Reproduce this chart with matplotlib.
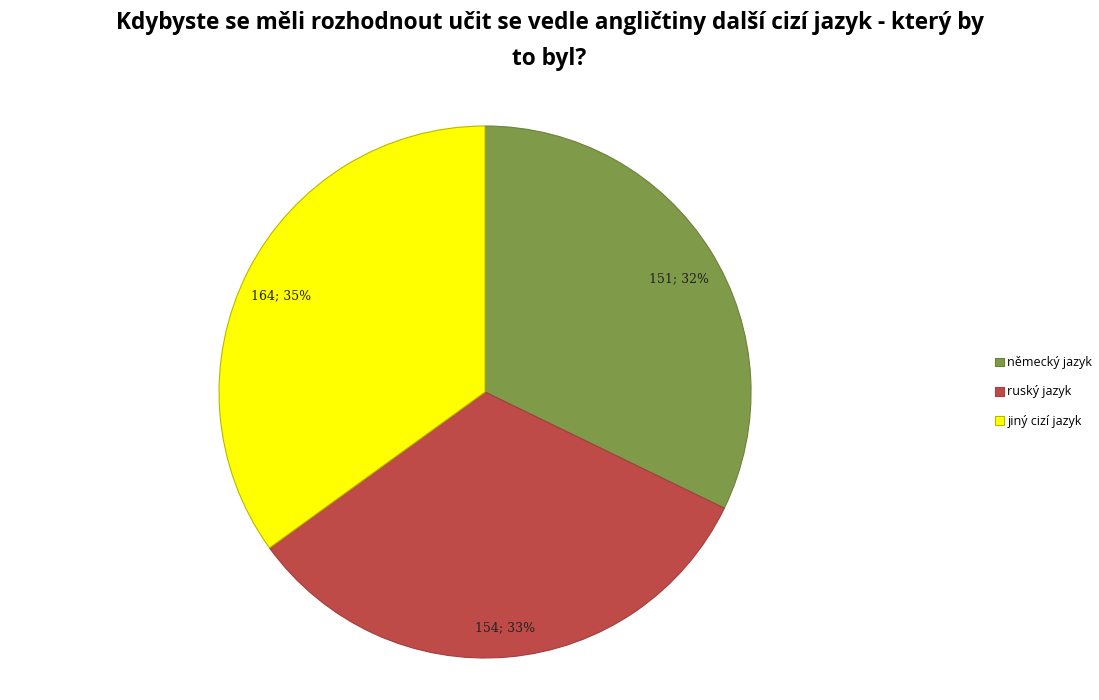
import matplotlib
matplotlib.use("Agg")
import matplotlib.pyplot as plt

# data
jazyky = ["německý jazyk", "ruský jazyk", "jiný cizí jazyk"]
pocty = [151, 154, 164]
barvy = ["#7F9A48", "#BE4B48", "#FFFF00"]
okraje = ["#6B8339", "#A33E3B", "#B8B800"]

titulek = "Kdybyste se měli rozhodnout učit se vedle angličtiny další cizí jazyk - který by\nto byl?"

def popisek(pct):
    celkem = sum(pocty)
    hodnota = int(round(pct * celkem / 100.0))
    return "%d; %d%%" % (hodnota, round(pct))

fig = plt.figure(figsize=(10.99, 7.0), dpi=100)
ax = fig.add_axes([0.1993, 0.06, 0.4841, 0.76])

klinky, texty, procenta = ax.pie(
    pocty,
    colors=barvy,
    startangle=90,
    counterclock=False,
    autopct=popisek,
    pctdistance=0.86,
    wedgeprops=dict(linewidth=0.8),
    textprops=dict(fontsize=9, family="DejaVu Serif", color="#222222"),
)
for w, e in zip(klinky, okraje):
    w.set_edgecolor(e)
# posun popisku o kousek niz, jako v Excelu
for t in procenta:
    x, y = t.get_position()
    t.set_position((x, y - 0.03))
ax.set_xlim(-1, 1)
ax.set_ylim(-1, 1)
ax.set_aspect("equal")

fig.text(0.5, 0.984, titulek, ha="center", va="top", fontsize=16.3,
         fontweight="bold", family="Open Sans", linespacing=1.65)

fig.legend(klinky, jazyky, loc="center left", bbox_to_anchor=(0.895, 0.44),
           frameon=False, handlelength=0.7, handleheight=0.7,
           handletextpad=0.3, labelspacing=1.3,
           prop=dict(family="Open Sans", size=9))

fig.savefig("out.png", dpi=100)
